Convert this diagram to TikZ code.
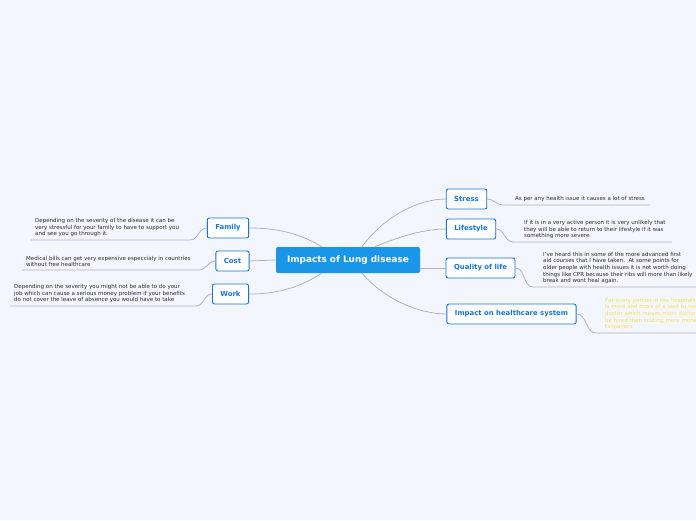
\documentclass[tikz,border=0pt]{standalone}
\usepackage{fontspec}
\setmainfont{DejaVu Sans}
\usetikzlibrary{positioning,calc}

\definecolor{bgblue}{RGB}{243,246,254}
\definecolor{mainblue}{RGB}{26,150,232}
\definecolor{topicblue}{RGB}{22,115,215}
\definecolor{linegray}{RGB}{176,180,190}
\definecolor{notetext}{RGB}{45,45,45}
\definecolor{noteyellow}{RGB}{247,228,80}

\tikzset{
  central/.style={fill=mainblue, rounded corners=2pt, text=white,
    font=\fontsize{8.9}{10}\selectfont\bfseries,
    minimum width=144pt, minimum height=26pt, inner sep=0pt},
  topic/.style={draw=topicblue, fill=white, line width=0.9pt, rounded corners=2pt,
    text=topicblue, font=\fontsize{6.9}{8}\selectfont\bfseries,
    minimum height=20pt, inner xsep=8pt, inner ysep=0pt},
  note/.style={align=left, inner sep=0pt, text=notetext,
    font=\fontsize{5.5}{6.6}\selectfont},
  link/.style={draw=linegray, line width=0.8pt},
}

\begin{document}
\begin{tikzpicture}[x=1pt, y=-1pt]
    % Background
    \path[use as bounding box] (0,0) rectangle (696,520);
    \fill[bgblue] (0,0) rectangle (696,520);
    \clip (0,0) rectangle (696,520);

    % Central topic
    \node[central] (root) at (348,260) {Impacts of Lung disease};

    % Main topics
    \node[topic] (stress)    at (466.5,199) {Stress};
    \node[topic] (lifestyle) at (471,229)   {Lifestyle};
    \node[topic] (quality)   at (480.5,268) {Quality of life};
    \node[topic] (impact)    at (511.5,314) {Impact on healthcare system};
    \node[topic] (family)    at (228,228)   {Family};
    \node[topic] (cost)      at (232.5,261) {Cost};
    \node[topic] (work)      at (230.5,294) {Work};

    % Branches from the centre
    \draw[link] ($(root.north)+(14,0)$) .. controls (385,215) and (420,199) .. (stress.west);
    \draw[link] ($(root.north)+(27,0)$) .. controls (400,236) and (425,229) .. (lifestyle.west);
    \draw[link] (root.east |- quality.west) -- (quality.west);
    \draw[link] ($(root.south)+(14,0)$) .. controls (385,300) and (420,314) .. (impact.west);
    \draw[link] (family.east) .. controls (290,228) and (310,240) .. ($(root.north)+(-26,0)$);
    \draw[link] (cost.east) -- (root.west);
    \draw[link] (work.east) .. controls (290,294) and (310,280) .. ($(root.south)+(-26,0)$);

    % Note lines
    \coordinate (stressA) at (503,205);  \coordinate (stressB) at (650,205);
    \coordinate (lifeA)   at (513,242);  \coordinate (lifeB)   at (672,242);
    \coordinate (qualA)   at (533,287);  \coordinate (qualB)   at (700,287);
    \coordinate (impA)    at (596,333);  \coordinate (impB)    at (700,333);
    \coordinate (famA)    at (190,240);  \coordinate (famB)    at (31,240);
    \coordinate (costA)   at (199,270);  \coordinate (costB)   at (22,270);
    \coordinate (workA)   at (196,306);  \coordinate (workB)   at (10,306);

    \draw[link] (stress.east) to[out=0, in=180] (stressA) -- (stressB);
    \draw[link] (lifestyle.east) to[out=0, in=180] (lifeA) -- (lifeB);
    \draw[link] (quality.east) to[out=0, in=180] (qualA) -- (qualB);
    \draw[link] (impact.east) to[out=0, in=180] (impA) -- (impB);
    \draw[link] (family.west) to[out=180, in=0] (famA) -- (famB);
    \draw[link] (cost.west) to[out=180, in=0] (costA) -- (costB);
    \draw[link] (work.west) to[out=180, in=0] (workA) -- (workB);

    % Notes
    \node[note, above right=3pt and 12pt of stressA, anchor=south west] (stressnote)
        {As per any health issue it causes a lot of stress};
    \node[note, above right=3pt and 11pt of lifeA, anchor=south west] (lifenote)
        {If it is in a very active person it is very unlikely that\\
         they will be able to return to their lifestyle if it was\\
         something more severe.};
    \node[note, above right=3pt and 10pt of qualA, anchor=south west] (qualnote)
        {I've heard this in some of the more advanced first\\
         aid courses that I have taken.\ \ At some points for\\
         older people with health issues it is not worth doing\\
         things like CPR because their ribs will more than likely\\
         break and wont heal again.};
    \node[note, text=noteyellow, above right=3pt and 9pt of impA, anchor=south west] (impnote)
        {For every person in the hospitals there\\
         is more and more of a wait to see a\\
         doctor which means more doctors have to\\
         be hired then costing more money for\\
         taxpayers};
    \node[note, above right=3pt and 4pt of famB, anchor=south west] (famnote)
        {Depending on the severity of the disease it can be\\
         very stressful for your family to have to support you\\
         and see you go through it.};
    \node[note, above right=3pt and 4pt of costB, anchor=south west] (costnote)
        {Medical bills can get very expensive especcialy in countries\\
         without free healthcare};
    \node[note, above right=3pt and 4pt of workB, anchor=south west] (worknote)
        {Depending on the severity you might not be able to do your\\
         job which can cause a serious money problem if your benefits\\
         do not cover the leave of absence you would have to take};
\end{tikzpicture}
\end{document}
